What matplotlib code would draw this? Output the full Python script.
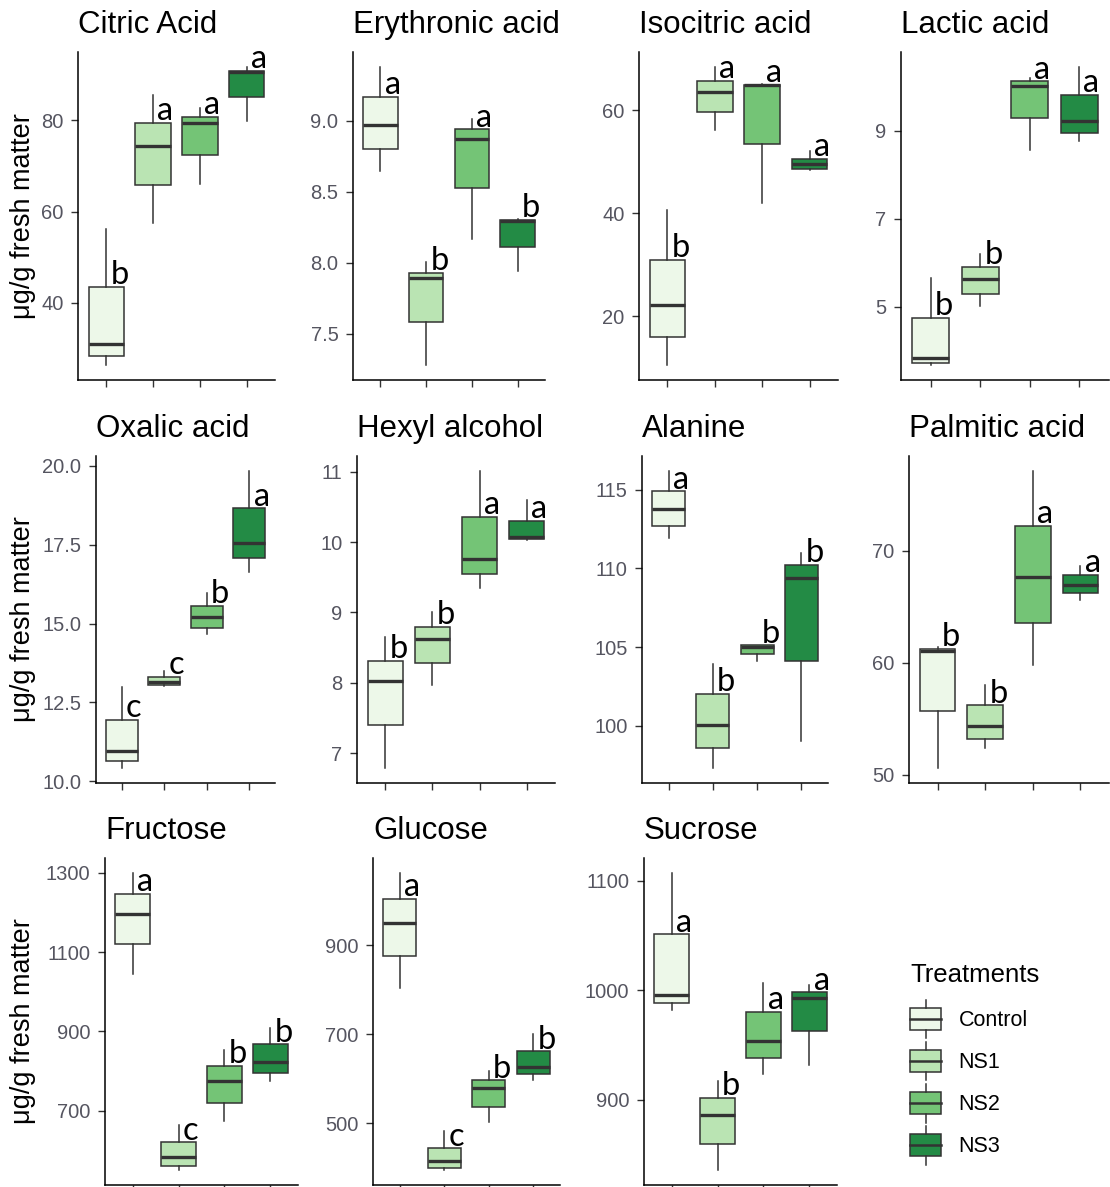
import matplotlib
matplotlib.use("Agg")
import matplotlib.pyplot as plt
from matplotlib.patches import Patch, Rectangle
from matplotlib.lines import Line2D
from matplotlib.legend_handler import HandlerBase

plt.rcParams["font.family"] = ["Liberation Sans", "DejaVu Sans"]

treatments = ["Control", "NS1", "NS2", "NS3"]
colors = ["#EDF8E9", "#BAE4B3", "#74C476", "#238B45"]

# five-number summaries per treatment: whisker low, Q1, median, Q3, whisker high
citric_acid = [[26.4, 28.5, 31.1, 43.6, 56.3], [57.6, 65.9, 74.3, 79.5, 85.6],
               [66.1, 72.5, 79.4, 80.7, 82.6], [79.8, 85.1, 90.6, 90.8, 91.7]]
erythronic_acid = [[8.65, 8.80, 8.97, 9.17, 9.38], [7.28, 7.58, 7.89, 7.93, 8.005],
                   [8.17, 8.53, 8.87, 8.94, 9.01], [7.94, 8.11, 8.295, 8.30, 8.31]]
isocitric_acid = [[10.5, 15.9, 22.1, 31.0, 40.7], [56.1, 59.7, 63.5, 65.7, 68.4],
                  [42.0, 53.5, 64.8, 64.9, 65.1], [48.3, 48.6, 49.5, 50.5, 52.0]]
lactic_acid = [[3.67, 3.72, 3.82, 4.75, 5.66], [5.02, 5.28, 5.63, 5.90, 6.20],
               [8.57, 9.29, 10.01, 10.12, 10.20], [8.77, 8.95, 9.23, 9.82, 10.45]]
oxalic_acid = [[10.42, 10.64, 10.96, 11.94, 12.99], [13.03, 13.05, 13.15, 13.32, 13.50],
               [14.67, 14.86, 15.20, 15.55, 15.97], [16.63, 17.08, 17.56, 18.65, 19.84]]
hexyl_alcohol = [[6.79, 7.40, 8.02, 8.31, 8.65], [7.97, 8.28, 8.63, 8.80, 9.01],
                 [9.35, 9.54, 9.76, 10.36, 11.01], [10.03, 10.04, 10.07, 10.30, 10.60]]
alanine = [[111.9, 112.7, 113.8, 114.9, 116.2], [97.3, 98.6, 100.05, 102.0, 103.9],
           [104.1, 104.57, 105.0, 105.1, 105.15], [99.0, 104.1, 109.4, 110.2, 111.0]]
palmitic_acid = [[50.6, 55.7, 61.05, 61.2, 61.4], [52.4, 53.2, 54.4, 56.2, 58.05],
                 [59.8, 63.5, 67.6, 72.2, 77.1], [65.6, 66.2, 66.95, 67.8, 68.6]]
fructose = [[1045, 1120, 1196, 1247, 1300], [550, 561, 583, 620, 664],
            [674, 720, 774, 813, 854], [775, 795, 824, 867, 909]]
glucose = [[805, 876, 950, 1005, 1063], [394, 399, 414, 443, 481],
           [503, 536, 579, 596, 618], [596, 610, 627, 661, 700]]
sucrose = [[982, 988, 996, 1051, 1107], [836, 860, 886, 902, 917],
           [924, 938, 954, 980, 1007], [932, 963, 993, 998, 1005]]

titles = ["Citric Acid", "Erythronic acid", "Isocitric acid", "Lactic acid",
          "Oxalic acid", "Hexyl alcohol", "Alanine", "Palmitic acid",
          "Fructose", "Glucose", "Sucrose"]
values = [citric_acid, erythronic_acid, isocitric_acid, lactic_acid,
          oxalic_acid, hexyl_alcohol, alanine, palmitic_acid,
          fructose, glucose, sucrose]
letters = [["b", "a", "a", "a"], ["a", "b", "a", "b"], ["b", "a", "a", "a"],
           ["b", "b", "a", "a"], ["c", "c", "b", "a"], ["b", "b", "a", "a"],
           ["a", "b", "b", "b"], ["b", "b", "a", "a"], ["a", "c", "b", "b"],
           ["a", "c", "b", "b"], ["a", "b", "a", "a"]]
ytick_labels = [["40", "60", "80"], ["7.5", "8.0", "8.5", "9.0"], ["20", "40", "60"],
                ["5", "7", "9"], ["10.0", "12.5", "15.0", "17.5", "20.0"],
                ["7", "8", "9", "10", "11"], ["100", "105", "110", "115"],
                ["50", "60", "70"], ["700", "900", "1100", "1300"],
                ["500", "700", "900"], ["900", "1000", "1100"]]
ylabel = "μg/g fresh matter"

# panel frames in pixels: (left, right, top, bottom)
frames = [(78, 275, 52, 380), (353, 545, 52, 380), (639, 838, 52, 380), (901, 1109, 52, 380),
          (96, 275, 456, 783), (357, 555, 456, 783), (642, 828, 456, 783), (909, 1109, 456, 783),
          (105, 298, 858, 1185), (373, 560, 858, 1185), (644, 837, 858, 1185)]

W, H = 1110, 1187
EDGE = "#333333"
TICK_COLOR = "#555560"

fig = plt.figure(figsize=(W / 100, H / 100), dpi=100)


class BoxKey(HandlerBase):
    """Draws a small boxplot glyph as legend key."""
    def create_artists(self, legend, orig_handle, xdescent, ydescent,
                       width, height, fontsize, trans):
        x0, y0 = -xdescent, -ydescent
        xm = x0 + width / 2
        box = Rectangle((x0, y0 + 0.22 * height), width, 0.56 * height,
                        facecolor=orig_handle.get_facecolor(), edgecolor=EDGE,
                        linewidth=1.1, transform=trans)
        med = Line2D([x0, x0 + width], [y0 + height / 2] * 2, color=EDGE,
                     linewidth=1.8, transform=trans)
        top = Line2D([xm, xm], [y0 + 0.78 * height, y0 + height], color=EDGE,
                     linewidth=1.1, transform=trans)
        bot = Line2D([xm, xm], [y0, y0 + 0.22 * height], color=EDGE,
                     linewidth=1.1, transform=trans)
        return [box, med, top, bot]


positions = [1, 2, 3, 4]
for i, (title, vals) in enumerate(zip(titles, values)):
    left, right, top, bottom = frames[i]
    ax = fig.add_axes([left / W, 1 - bottom / H, (right - left) / W, (bottom - top) / H])

    stats = [dict(whislo=v[0], q1=v[1], med=v[2], q3=v[3], whishi=v[4]) for v in vals]
    bp = ax.bxp(stats, positions=positions, widths=0.75, patch_artist=True,
                showcaps=False, showfliers=False,
                boxprops=dict(edgecolor=EDGE, linewidth=1.1),
                medianprops=dict(color=EDGE, linewidth=2.4),
                whiskerprops=dict(color=EDGE, linewidth=1.1))
    for patch, c in zip(bp["boxes"], colors):
        patch.set_facecolor(c)

    for pos, v, let in zip(positions, vals, letters[i]):
        ax.annotate(let, xy=(pos, v[3]), xytext=(3, 2), textcoords="offset points",
                    ha="left", va="baseline", fontsize=23.5, family="Lato")

    ax.set_xlim(0.4, 4.6)
    ax.margins(y=0.05)
    ax.set_xticks(positions)
    ax.set_xticklabels([])
    ticks = [float(t) for t in ytick_labels[i]]
    ax.set_yticks(ticks)
    ax.set_yticklabels(ytick_labels[i])

    for side in ["top", "right"]:
        ax.spines[side].set_visible(False)
    for side in ["left", "bottom"]:
        ax.spines[side].set_linewidth(1.1)
        ax.spines[side].set_color("black")
    ax.tick_params(axis="both", length=5, width=1.0, color=EDGE, pad=5.5,
                   labelsize=14.5, labelcolor=TICK_COLOR)

    ax.set_title(title, loc="left", fontsize=22.5, pad=13.5)

    if i in (0, 4, 8):
        ax.set_ylabel(ylabel, fontsize=19.5)
        ax.yaxis.set_label_coords((36 - left) / (right - left), 0.5)

handles = [Patch(facecolor=c, label=t) for c, t in zip(colors, treatments)]
leg = fig.legend(handles=handles, labels=treatments, handler_map={Patch: BoxKey()},
                 loc="upper left", bbox_to_anchor=(910 / W, 1 - 963 / H),
                 frameon=False, title="Treatments", title_fontsize=18.5, fontsize=15.5,
                 alignment="left", handlelength=1.45, handleheight=2.4,
                 labelspacing=0.15, handletextpad=0.8, borderpad=0, borderaxespad=0)
# a bit more room between the legend title and the first key
leg._legend_box.sep = 9

fig.savefig("out.png", dpi=100)
